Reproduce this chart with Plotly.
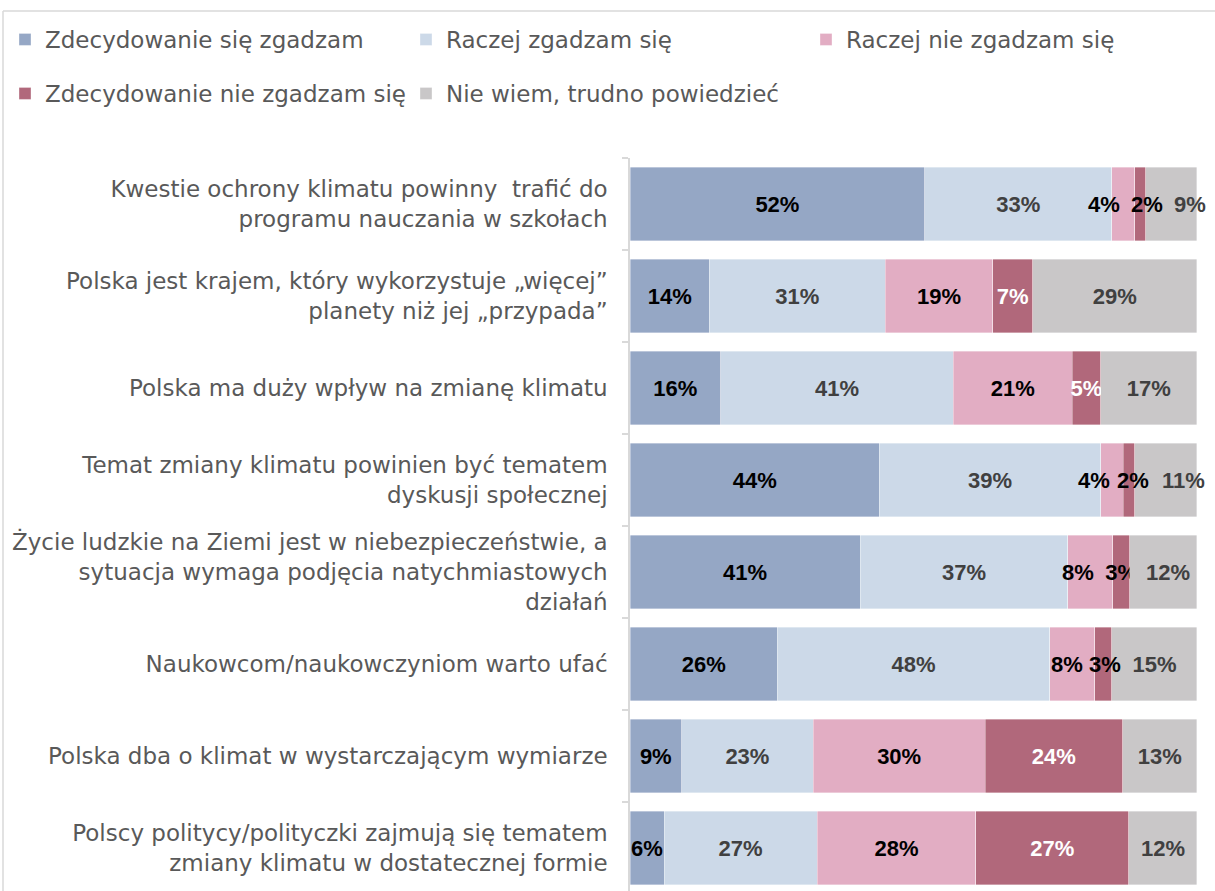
import plotly.graph_objects as go

# statements (top to bottom)
categories = [
    "Kwestie ochrony klimatu powinny  trafić do<br>programu nauczania w szkołach",
    "Polska jest krajem, który wykorzystuje „więcej”<br>planety niż jej „przypada”",
    "Polska ma duży wpływ na zmianę klimatu",
    "Temat zmiany klimatu powinien być tematem<br>dyskusji społecznej",
    "Życie ludzkie na Ziemi jest w niebezpieczeństwie, a<br>sytuacja wymaga podjęcia natychmiastowych<br>działań",
    "Naukowcom/naukowczyniom warto ufać",
    "Polska dba o klimat w wystarczającym wymiarze",
    "Polscy politycy/polityczki zajmują się tematem<br>zmiany klimatu w dostatecznej formie",
]

series_names = [
    "Zdecydowanie się zgadzam",
    "Raczej zgadzam się",
    "Raczej nie zgadzam się",
    "Zdecydowanie nie zgadzam się",
    "Nie wiem, trudno powiedzieć",
]

strongly_agree = [52, 14, 16, 44, 41, 26, 9, 6]
rather_agree = [33, 31, 41, 39, 37, 48, 23, 27]
rather_disagree = [4, 19, 21, 4, 8, 8, 30, 28]
strongly_disagree = [2, 7, 5, 2, 3, 3, 24, 27]
dont_know = [9, 29, 17, 11, 12, 15, 13, 12]

values = [strongly_agree, rather_agree, rather_disagree, strongly_disagree, dont_know]
colors = ["#95A7C5", "#CCD9E8", "#E2ADC3", "#B1687B", "#C9C7C8"]
label_colors = ["#000000", "#404040", "#000000", "#FFFFFF", "#404040"]

# labels that Excel pushed sideways to avoid overlap: (row, series) -> px shift
nudges = {(0, 2): -19, (0, 3): 7, (0, 4): 19,
          (3, 2): -18, (3, 3): 4, (3, 4): 18,
          (4, 2): -12, (4, 4): 5,
          (5, 2): -5, (5, 3): 2}

W, H = 1215, 891
L, R, T, B = 630, 18, 158, 0
pw, ph = W - L - R, H - T - B

label_font = "Liberation Sans"
text_font = "DejaVu Sans"
label_size = 22


def px_x(p):
    return (p - L) / pw


def px_y(p):
    return (H - B - p) / ph


def label_color(i, v):
    # tiny dark segments get black labels, as in the original
    if i == 3 and v < 5:
        return "#000000"
    return label_colors[i]


fig = go.Figure()
for i, (name, vals) in enumerate(zip(series_names, values)):
    texts = ["" if (r, i) in nudges else f"{v}%" for r, v in enumerate(vals)]
    fig.add_trace(go.Bar(
        y=categories, x=vals, name=name, orientation="h",
        marker=dict(color=colors[i], line=dict(width=0.6, color="rgba(255,255,255,0.6)")),
        text=texts,
        textposition="inside", insidetextanchor="middle",
        textangle=0, constraintext="none", cliponaxis=False,
        textfont=dict(family=label_font, size=label_size, weight="bold",
                      color=[label_color(i, v) for v in vals]),
        legend="legend" if i == 0 else f"legend{i + 1}",
        hoverinfo="skip",
    ))

# nudged labels placed at their segment middles (bars are normalised to 100%)
annotations = []
for (r, i), shift in nudges.items():
    row = [s[r] for s in values]
    total = sum(row)
    mid = (sum(row[:i]) + row[i] / 2) / total * 100
    annotations.append(dict(
        x=mid, y=categories[r], xref="x", yref="y", text=f"{row[i]}%",
        showarrow=False, xshift=shift,
        font=dict(family=label_font, size=label_size, weight="bold",
                  color=label_color(i, row[i])),
    ))

legend_pos = [(23, 39.5), (424, 39.5), (824, 39.5), (23, 93.5), (424, 93.5)]
legends = {}
for k, (lx, ly) in enumerate(legend_pos):
    key = "legend" if k == 0 else f"legend{k + 1}"
    legends[key] = dict(
        orientation="h", xanchor="left", yanchor="middle",
        x=px_x(lx - 18), y=px_y(ly),
        font=dict(family=text_font, size=23, color="#595959"),
        bgcolor="rgba(0,0,0,0)",
    )

fig.update_layout(
    width=W, height=H,
    margin=dict(l=L, r=R, t=T, b=B, autoexpand=False),
    paper_bgcolor="white", plot_bgcolor="white",
    barmode="stack", barnorm="percent", bargap=0.2,
    showlegend=True,
    **legends,
    xaxis=dict(range=[0, 100.01], visible=False, fixedrange=True, automargin=False),
    yaxis=dict(
        autorange=False, range=[7.5 - 3 / 92, -0.5], automargin=False,
        showline=True, linecolor="#D9D9D9", linewidth=1.5,
        ticks="outside", ticklen=6, tickcolor="#D9D9D9", tickwidth=1.5,
        tickson="boundaries", showgrid=False,
        ticklabelstandoff=16,
        tickfont=dict(family=text_font, size=23, color="#595959"),
    ),
    annotations=annotations,
    shapes=[
        dict(type="line", xref="paper", yref="paper",
             x0=px_x(3), x1=px_x(W + 10), y0=px_y(11), y1=px_y(11),
             line=dict(color="#D9D9D9", width=1.5)),
        dict(type="line", xref="paper", yref="paper",
             x0=px_x(3), x1=px_x(3), y0=px_y(11), y1=px_y(H + 10),
             line=dict(color="#D9D9D9", width=1.5)),
    ],
)

# the page body has a default 8px margin; drop it so the chart sits at 0,0
fig.write_html("out.html", config={"displayModeBar": False},
               post_script="document.body.style.margin='0';")
